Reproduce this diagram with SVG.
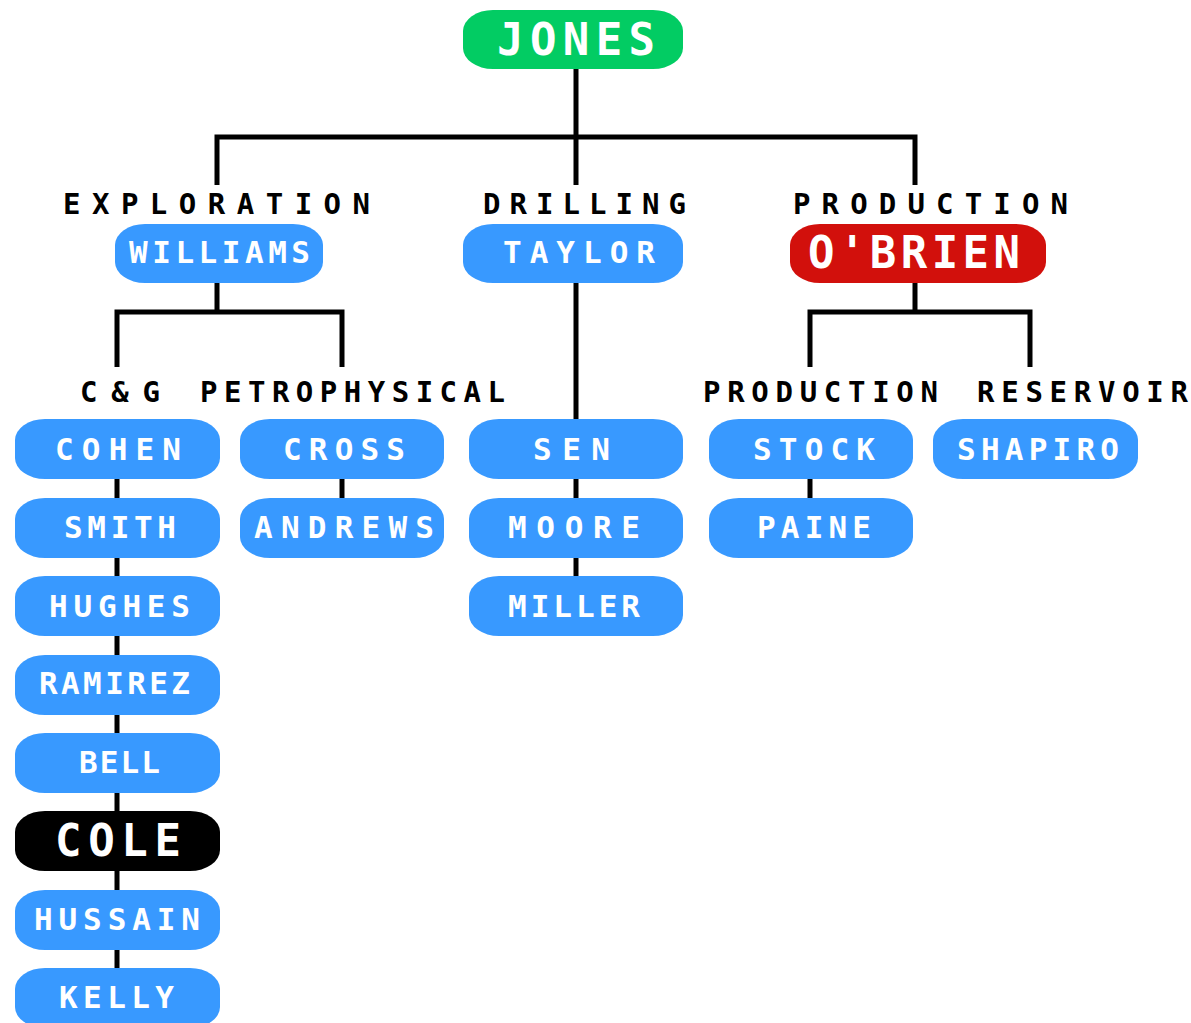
<svg xmlns="http://www.w3.org/2000/svg" width="1191" height="1023" viewBox="0 0 1191 1023">
<style>
.pill{fill:#3899FF}
.t{font-family:"DejaVu Sans Mono","Liberation Mono",monospace;font-weight:bold;fill:#fff;font-size:31px}
.big{font-family:"DejaVu Sans Mono","Liberation Mono",monospace;font-weight:bold;fill:#fff;font-size:44px}
.lab{font-family:"DejaVu Sans Mono","Liberation Mono",monospace;font-weight:bold;fill:#000;font-size:29px}
.c{fill:none;stroke:#000;stroke-width:5}
</style>
<rect width="1191" height="1023" fill="#fff"/>
<g id="connectors">
<path class="c" d="M576 68V185M217 185V137H915V185"/>
<path class="c" d="M217 282V312M117 367V312H342V367"/>
<path class="c" d="M576 282V420"/>
<path class="c" d="M915 282V312M810 367V312H1030V367"/>
<path class="c" d="M117 478V1000"/>
<path class="c" d="M342 478V500"/>
<path class="c" d="M576 478V580"/>
<path class="c" d="M810 478V500"/>
</g>
<g id="labels">
<text class="lab" x="63" y="214" textLength="307" lengthAdjust="spacing">EXPLORATION</text>
<text class="lab" x="483" y="214" textLength="203" lengthAdjust="spacing">DRILLING</text>
<text class="lab" x="793" y="214" textLength="275" lengthAdjust="spacing">PRODUCTION</text>
<text class="lab" x="80" y="402" textLength="80" lengthAdjust="spacing">C&amp;G</text>
<text class="lab" x="200" y="402" textLength="305" lengthAdjust="spacing">PETROPHYSICAL</text>
<text class="lab" x="703" y="402" textLength="235" lengthAdjust="spacing">PRODUCTION</text>
<text class="lab" x="977" y="402" textLength="211" lengthAdjust="spacing">RESERVOIR</text>
</g>
<g id="jones"><rect x="463" y="10" width="220" height="59" rx="30" ry="21" fill="#02CC63"/><text class="big" x="497" y="55" textLength="158" lengthAdjust="spacing">JONES</text></g>
<g id="williams"><rect class="pill" x="115" y="224" width="208" height="59" rx="30" ry="21"/><text class="t" x="129" y="263" textLength="181" lengthAdjust="spacing">WILLIAMS</text></g>
<g id="taylor"><rect class="pill" x="463" y="224" width="220" height="59" rx="30" ry="21"/><text class="t" x="503" y="263" textLength="152" lengthAdjust="spacing">TAYLOR</text></g>
<g id="obrien"><rect x="790" y="224" width="256" height="59" rx="30" ry="21" fill="#D2100C"/><text class="big" x="808" y="268" textLength="212" lengthAdjust="spacing">O'BRIEN</text></g>
<g id="cohen"><rect class="pill" x="15" y="419" width="205" height="60" rx="30" ry="21"/><text class="t" x="55" y="460" textLength="126" lengthAdjust="spacing">COHEN</text></g>
<g id="smith"><rect class="pill" x="15" y="498" width="205" height="60" rx="30" ry="21"/><text class="t" x="64" y="538" textLength="112" lengthAdjust="spacing">SMITH</text></g>
<g id="hughes"><rect class="pill" x="15" y="576" width="205" height="60" rx="30" ry="21"/><text class="t" x="49" y="617" textLength="141" lengthAdjust="spacing">HUGHES</text></g>
<g id="ramirez"><rect class="pill" x="15" y="655" width="205" height="60" rx="30" ry="21"/><text class="t" x="39" y="694" textLength="151" lengthAdjust="spacing">RAMIREZ</text></g>
<g id="bell"><rect class="pill" x="15" y="733" width="205" height="60" rx="30" ry="21"/><text class="t" x="79" y="773" textLength="81" lengthAdjust="spacing">BELL</text></g>
<g id="cole"><rect x="15" y="811" width="205" height="60" rx="30" ry="21" fill="#000"/><text class="big" x="55" y="856" textLength="126" lengthAdjust="spacing">COLE</text></g>
<g id="hussain"><rect class="pill" x="15" y="890" width="205" height="60" rx="30" ry="21"/><text class="t" x="34" y="930" textLength="166" lengthAdjust="spacing">HUSSAIN</text></g>
<g id="kelly"><rect class="pill" x="15" y="968" width="205" height="60" rx="30" ry="21"/><text class="t" x="59" y="1008" textLength="115" lengthAdjust="spacing">KELLY</text></g>
<g id="cross"><rect class="pill" x="240" y="419" width="204" height="60" rx="30" ry="21"/><text class="t" x="283" y="460" textLength="122" lengthAdjust="spacing">CROSS</text></g>
<g id="andrews"><rect class="pill" x="240" y="498" width="204" height="60" rx="30" ry="21"/><text class="t" x="254" y="538" textLength="180" lengthAdjust="spacing">ANDREWS</text></g>
<g id="sen"><rect class="pill" x="469" y="419" width="214" height="60" rx="30" ry="21"/><text class="t" x="533" y="460" textLength="77" lengthAdjust="spacing">SEN</text></g>
<g id="moore"><rect class="pill" x="469" y="498" width="214" height="60" rx="30" ry="21"/><text class="t" x="508" y="538" textLength="132" lengthAdjust="spacing">MOORE</text></g>
<g id="miller"><rect class="pill" x="469" y="576" width="214" height="60" rx="30" ry="21"/><text class="t" x="508" y="617" textLength="132" lengthAdjust="spacing">MILLER</text></g>
<g id="stock"><rect class="pill" x="709" y="419" width="204" height="60" rx="30" ry="21"/><text class="t" x="753" y="460" textLength="122" lengthAdjust="spacing">STOCK</text></g>
<g id="paine"><rect class="pill" x="709" y="498" width="204" height="60" rx="30" ry="21"/><text class="t" x="757" y="538" textLength="114" lengthAdjust="spacing">PAINE</text></g>
<g id="shapiro"><rect class="pill" x="933" y="419" width="205" height="60" rx="30" ry="21"/><text class="t" x="957" y="460" textLength="162" lengthAdjust="spacing">SHAPIRO</text></g>
</svg>
